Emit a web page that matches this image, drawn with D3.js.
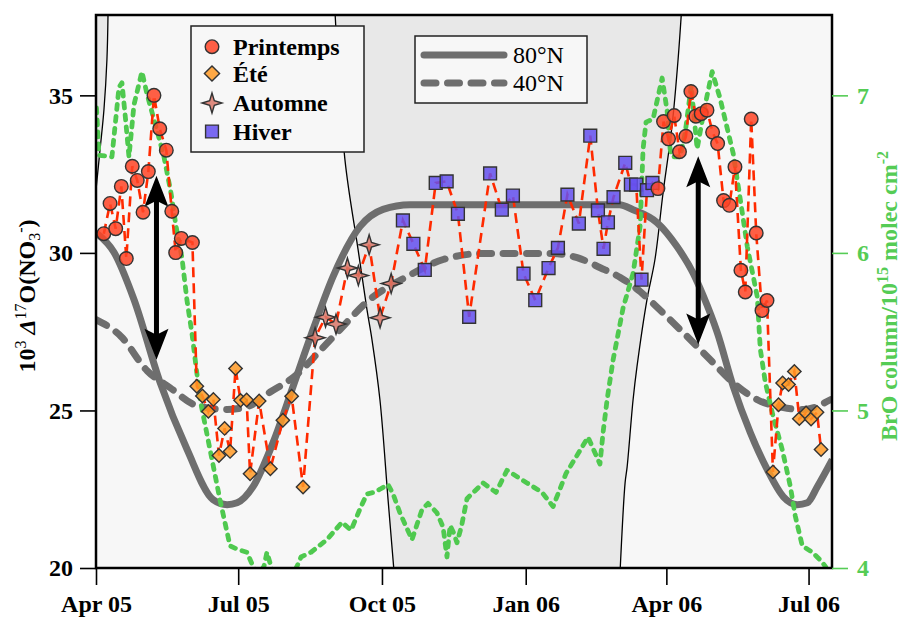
<!DOCTYPE html>
<html>
<head>
<meta charset="utf-8">
<script src="https://cdn.jsdelivr.net/npm/d3@7"></script>
<style>
  body { margin: 0; background: #fff; }
  text { font-family: "Liberation Serif", "Times New Roman", serif; }
</style>
</head>
<body>
<svg id="chart" width="902" height="617"></svg>
<script>
// days are counted from 1 April 2005
const START = new Date(Date.UTC(2005, 3, 1))
const END = new Date(Date.UTC(2006, 6, 16))

/* DATA */
const printempsDay = [5, 9, 12.6, 16.2, 19.4, 23.2, 26.4, 30.1, 33.5, 37.1, 40.8, 45, 48.5, 51, 54.6, 61.7,
    359.6, 363.2, 366.4, 370, 373.4, 377.5, 380.7, 383.9, 387.3, 391, 394.6, 397.8, 401.6, 405.3, 408.9, 412.7, 415.5, 419.3, 422.5, 426.2, 429.4]
const printempsVal = [30.61, 31.57, 30.77, 32.11, 29.82, 32.75, 32.3, 31.29, 32.58, 35, 33.94, 33.26, 31.32, 30.01, 30.46, 30.33,
    32.04, 34.17, 33.62, 34.36, 33.21, 33.7, 35.12, 34.34, 34.42, 34.53, 33.83, 33.47, 31.66, 31.51, 32.73, 29.45, 28.76, 34.25, 30.63, 28.17, 28.49]

const eteDay = [64.5, 68.1, 71.9, 75.1, 78.7, 82.3, 85.8, 89.3, 92.5, 96.4, 98.6, 104.4, 111.6, 119.6, 125.2, 132.5,
    433.2, 436.8, 439.4, 443.2, 446.9, 450.1, 454.4, 457.6, 461.4, 464]
const eteVal = [25.77, 25.46, 24.97, 25.35, 23.57, 24.43, 23.7, 26.33, 25.32, 25.33, 22.99, 25.3, 23.15, 24.69, 25.45, 22.57,
    23.05, 25.18, 25.87, 25.82, 26.24, 24.74, 24.92, 24.73, 24.94, 23.76]

const automneDay = [140.2, 146.9, 153.6, 160.9, 167.9, 174.8, 181.8, 188.9]
const automneVal = [27.31, 27.96, 27.74, 29.52, 29.28, 30.26, 27.94, 29.03]

const hiverDay = [196.4, 203.1, 210.4, 217.4, 224.4, 231.6, 238.8, 252.2, 259.7, 266.8, 273.6, 281.1, 289.6, 295.6,
    301.7, 309, 316.3, 321.2, 324.8, 327.6, 331.2, 338.7, 342.3, 345.7, 349.1, 352.6, 356.1]
const hiverVal = [31.03, 30.29, 29.46, 32.22, 32.27, 31.24, 27.97, 32.52, 31.37, 31.82, 29.34, 28.5, 29.52, 30.16,
    31.85, 30.93, 33.72, 31.35, 30.13, 30.97, 31.77, 32.86, 32.17, 32.17, 29.15, 31.99, 32.22]

// BrO column (right axis), [day, value]
const brO = [[0.3, 6.92], [1.9, 6.62], [10.2, 6.61], [14.7, 7.05], [16.6, 7.08], [18.9, 6.85], [21.1, 6.61], [24.3, 6.94],
    [29.4, 7.15], [32.6, 7.01], [38.4, 6.8], [43.5, 6.61], [48, 6.38], [51.2, 6.17], [55, 5.97], [58.2, 5.7], [61.4, 5.49],
    [66.6, 5.07], [73, 4.75], [79.4, 4.43], [85.8, 4.14], [90.2, 4.12], [96.6, 4.1], [100.5, 4.01], [103.7, 3.96],
    [107.5, 4.01], [109.4, 4.1], [112, 4.01], [115.2, 3.93], [124.2, 3.93], [128.6, 4.01], [131.2, 4.07], [137.6, 4.1],
    [147.8, 4.18], [157.4, 4.29], [163.2, 4.24], [169.6, 4.39], [173.4, 4.47], [177.9, 4.48], [181.7, 4.5], [186.9, 4.53],
    [190.1, 4.47], [194.5, 4.35], [202.2, 4.18], [208.6, 4.37], [212.5, 4.41], [218.2, 4.35], [222.1, 4.26], [224.6, 4.07],
    [226.6, 4.27], [229, 4.22], [231, 4.16], [234, 4.27], [237.4, 4.44], [247.7, 4.54], [256, 4.48], [263, 4.62], [275.8, 4.54],
    [285.4, 4.48], [292.5, 4.39], [300.8, 4.6], [314.9, 4.83], [322.5, 4.66], [324.5, 4.86], [327.1, 5.07], [330.9, 5.32],
    [337.3, 5.65], [343.7, 5.87], [348.2, 6.17], [350.1, 6.66], [352, 6.83], [356.5, 6.85], [362.3, 7.11], [365.5, 6.9],
    [367.4, 6.66], [368.7, 6.61], [373.8, 6.61], [377, 6.76], [380.9, 7.06], [384.7, 6.66], [389.2, 6.91], [394.3, 7.15],
    [399.4, 6.98], [407.8, 6.63], [412.3, 6.34], [416.8, 6.04], [423.2, 5.72], [425.1, 5.39], [428.3, 5.18], [433.4, 4.96],
    [439.2, 4.75], [444.3, 4.52], [447.5, 4.33], [452, 4.14], [458.4, 4.1], [463.5, 4.05], [466.8, 4.01], [470.5, 3.93]]

// model curves, [day, value]
const model80 = [[0, 30.64], [11.5, 30.02], [24.3, 28.52], [41, 25.89], [58.3, 23.76], [74.9, 22.17], [83.9, 22.01],
    [90.3, 22.07], [100.5, 22.58], [113.3, 23.98], [126.1, 25.76], [138.9, 27.57], [151.7, 29.25], [169, 30.84],
    [183.7, 31.38], [201, 31.53], [335, 31.53], [343.7, 31.37], [359, 30.96], [371.8, 30.2], [382, 29.37], [388.6, 28.64],
    [397.6, 27.47], [407.8, 25.76], [418.7, 24.3], [429.6, 23.12], [439.9, 22.26], [448.8, 22.01], [455.2, 22.07],
    [461.6, 22.58], [471.2, 23.44]]
const model40 = [[0, 27.88], [16, 27.35], [32.7, 26.26], [47.4, 25.72], [64.7, 25.15], [83.9, 25.03], [96.7, 25.12],
    [112, 25.6], [126.8, 26.07], [144, 26.93], [156.2, 27.57], [173.5, 28.45], [199.1, 29.25], [222.2, 29.79],
    [247.8, 29.98], [292.6, 29.98], [307.9, 29.85], [322.7, 29.53], [335.5, 29.22], [348.3, 28.77], [357.9, 28.33],
    [375.8, 27.47], [393.1, 26.61], [407.8, 25.88], [423.2, 25.34], [439.9, 25.09], [452.7, 25.03], [470, 25.34]]

// polar night boundaries
const nightCorner = [[7.7, 37.6], [7, 36.14], [5.1, 34.55], [2.6, 33.28], [0, 32.01]]
const nightStart = [[153, 37.6], [159.3, 32.96], [167.7, 30.11], [173.4, 28.2], [176.6, 27.25], [181.7, 25.34],
    [186.9, 22.17], [190.7, 19.9]]
const nightEnd = [[374.6, 37.6], [372.5, 36.14], [368.6, 34.01], [362.9, 31.91], [357.7, 29.79], [352.6, 28.52],
    [346.2, 26.39], [343.7, 25.34], [339.9, 23.21], [338.6, 22.71], [335.4, 19.9]]

// arrows
const arrowDay = [38.7, 385.4]
const arrowTop = [32.45, 33.07]
const arrowBottom = [26.61, 27.09]

const xTickDates = ["2005-04-01", "2005-07-01", "2005-10-01", "2006-01-01", "2006-04-01", "2006-07-01"]
const xTickLabels = ["Apr 05", "Jul 05", "Oct 05", "Jan 06", "Apr 06", "Jul 06"]
const yTicks = [20, 25, 30, 35]
const brOTicks = [4, 5, 6, 7]

const seasons = ["Printemps", "Été", "Automne", "Hiver"]
const seasonColor = ["#ff4426", "#ff9a26", "#d9786a", "#6450f0"]
const models = ["80°N", "40°N"]

/* UTILS */
function dayToDate(d) {
    return new Date(START.getTime() + d * 864e5)
}

function starPath(r) {
    const pts = d3.range(8).map(i => [i * Math.PI / 4, i % 2 ? r * 0.33 : r])
    return d3.lineRadial().curve(d3.curveLinearClosed)(pts)
}

function markerPath(season, big) {
    if (season === 0) return d3.symbol(d3.symbolCircle, 145)()
    if (season === 1) return d3.symbol(d3.symbolSquare, big ? 115 : 90)()
    if (season === 2) return starPath(10)
    return d3.symbol(d3.symbolSquare, 165)()
}

// set the dimensions and margins of the graph
const width = 902, height = 617
const margin = { top: 15, right: 70, bottom: 49, left: 96 }

const svg = d3.select("#chart")

const x = d3.scaleUtc().domain([START, END]).range([margin.left, width - margin.right])
const y = d3.scaleLinear().domain([20, 37.55]).range([height - margin.bottom, margin.top])
const yBrO = d3.scaleLinear().domain([4, 7.51]).range([height - margin.bottom, margin.top])

const plotW = width - margin.left - margin.right
const plotH = height - margin.top - margin.bottom

svg.append("clipPath").attr("id", "plotClip")
    .append("rect")
    .attr("x", margin.left).attr("y", margin.top)
    .attr("width", plotW).attr("height", plotH)

const plot = svg.append("g").attr("clip-path", "url(#plotClip)")

// background
plot.append("rect")
    .attr("x", margin.left).attr("y", margin.top)
    .attr("width", plotW).attr("height", plotH)
    .attr("fill", "#f7f7f7")

const bound = d3.line()
    .x(d => x(dayToDate(d[0])))
    .y(d => y(d[1]))
    .curve(d3.curveCatmullRom)

// dark zones, built from the same boundary curves
plot.append("path")
    .attr("d", bound(nightCorner) + "L" + x(START) + "," + y(37.6) + "Z")
    .attr("fill", "#e8e8e8")
plot.append("path")
    .attr("d", bound(nightStart) + bound(nightEnd.slice().reverse()).replace(/^M/, "L") + "Z")
    .attr("fill", "#e8e8e8")

;[nightCorner, nightStart, nightEnd].forEach(b => {
    plot.append("path")
        .attr("d", bound(b))
        .attr("fill", "none")
        .attr("stroke", "#000")
        .attr("stroke-width", 1.3)
})

// model curves
const modelLine = d3.line()
    .x(d => x(dayToDate(d[0])))
    .y(d => y(d[1]))
    .curve(d3.curveMonotoneX)

plot.append("path")
    .attr("d", modelLine(model80))
    .attr("fill", "none")
    .attr("stroke", "#6e6e6e")
    .attr("stroke-width", 7)
plot.append("path")
    .attr("d", modelLine(model40))
    .attr("fill", "none")
    .attr("stroke", "#6e6e6e")
    .attr("stroke-width", 7)
    .attr("stroke-linecap", "round")
    .attr("stroke-dasharray", "12,11.5")

// BrO line
const brOLine = d3.line()
    .x(d => x(dayToDate(d[0])))
    .y(d => yBrO(d[1]))

plot.append("path")
    .attr("d", brOLine(brO))
    .attr("fill", "none")
    .attr("stroke", "#4fc94f")
    .attr("stroke-width", 4.8)
    .attr("stroke-linecap", "round")
    .attr("stroke-linejoin", "round")
    .attr("stroke-dasharray", "5,7")

// all observations, chronological
let obs = []
;[[printempsDay, printempsVal], [eteDay, eteVal], [automneDay, automneVal], [hiverDay, hiverVal]].forEach(([days, vals], s) => {
    days.forEach((d, i) => obs.push({ day: d, value: vals[i], season: s }))
})
obs.sort((a, b) => a.day - b.day)

plot.append("path")
    .attr("d", d3.line().x(d => x(dayToDate(d.day))).y(d => y(d.value))(obs))
    .attr("fill", "none")
    .attr("stroke", "#ff2a00")
    .attr("stroke-width", 2.6)
    .attr("stroke-dasharray", "10,6")

// arrows
function drawArrow(g, xp, yTop, yBot) {
    g.append("line")
        .attr("x1", xp).attr("x2", xp)
        .attr("y1", yTop + 20).attr("y2", yBot - 20)
        .attr("stroke", "#000").attr("stroke-width", 5)
    g.append("path")
        .attr("d", `M${xp},${yTop}L${xp - 12},${yTop + 31}L${xp},${yTop + 25}L${xp + 12},${yTop + 31}Z`)
        .attr("fill", "#000")
    g.append("path")
        .attr("d", `M${xp},${yBot}L${xp - 12},${yBot - 31}L${xp},${yBot - 25}L${xp + 12},${yBot - 31}Z`)
        .attr("fill", "#000")
}
arrowDay.forEach((d, i) => {
    drawArrow(plot, x(dayToDate(d)), y(arrowTop[i]), y(arrowBottom[i]))
})

// markers
plot.append("g")
    .selectAll("path")
    .data(obs)
    .enter().append("path")
    .attr("d", d => markerPath(d.season))
    .attr("transform", d => "translate(" + x(dayToDate(d.day)) + "," + y(d.value) + ")" + (d.season === 1 ? " rotate(45)" : ""))
    .attr("fill", d => seasonColor[d.season])
    .attr("fill-opacity", 0.85)
    .attr("stroke", "#333")
    .attr("stroke-width", 1.4)

/* LEGENDS */
const leg1 = svg.append("g")
leg1.append("rect")
    .attr("x", 191).attr("y", 26).attr("width", 173).attr("height", 126)
    .attr("fill", "#f7f7f7").attr("stroke", "#222").attr("stroke-width", 1.5)
const legY = [46.7, 73.5, 103, 131.5]
seasons.forEach((s, i) => {
    leg1.append("path")
        .attr("d", markerPath(i, true))
        .attr("transform", "translate(212," + legY[i] + ")" + (i === 1 ? " rotate(45)" : ""))
        .attr("fill", seasonColor[i])
        .attr("fill-opacity", 0.85)
        .attr("stroke", "#333")
        .attr("stroke-width", 1.4)
    leg1.append("text")
        .attr("x", 233).attr("y", legY[i]).attr("dy", "0.35em")
        .style("font-size", "24px").style("font-weight", "bold")
        .text(s)
})

const leg2 = svg.append("g")
leg2.append("rect")
    .attr("x", 415).attr("y", 36).attr("width", 172).attr("height", 67)
    .attr("fill", "#f7f7f7").attr("stroke", "#222").attr("stroke-width", 1.5)
const leg2Y = [55, 83]
models.forEach((m, i) => {
    leg2.append("line")
        .attr("x1", 424).attr("x2", 504)
        .attr("y1", leg2Y[i]).attr("y2", leg2Y[i])
        .attr("stroke", "#6e6e6e").attr("stroke-width", 7)
        .attr("stroke-linecap", "round")
        .attr("stroke-dasharray", i === 1 ? "12,11.5" : null)
    leg2.append("text")
        .attr("x", 513).attr("y", leg2Y[i]).attr("dy", "0.35em")
        .style("font-size", "24px")
        .text(m)
})

/* FRAME + AXES */
svg.append("rect")
    .attr("x", margin.left).attr("y", margin.top)
    .attr("width", plotW).attr("height", plotH)
    .attr("fill", "none").attr("stroke", "#000").attr("stroke-width", 2.5)

const parseDay = d3.utcParse("%Y-%m-%d")
const xAxis = svg.append("g")
    .attr("transform", "translate(0," + (height - margin.bottom) + ")")
    .call(d3.axisBottom(x)
        .tickValues(xTickDates.map(parseDay))
        .tickFormat((d, i) => xTickLabels[i])
        .tickSize(17).tickPadding(10))

const yAxis = svg.append("g")
    .attr("transform", "translate(" + margin.left + ",0)")
    .call(d3.axisLeft(y).tickValues(yTicks).tickFormat(d3.format("d")).tickSize(16).tickPadding(7))

const rAxis = svg.append("g")
    .attr("transform", "translate(" + (width - margin.right) + ",0)")
    .call(d3.axisRight(yBrO).tickValues(brOTicks).tickFormat(d3.format("d")).tickSize(16).tickPadding(9))

;[xAxis, yAxis, rAxis].forEach(a => {
    a.attr("font-family", "Liberation Serif").attr("font-size", 24).attr("font-weight", "bold")
    a.select(".domain").remove()
    a.selectAll("line").attr("stroke-width", 1.6)
})
rAxis.selectAll("line").attr("stroke", "#55cc55")
rAxis.selectAll("text").attr("fill", "#55cc55")

// axis titles
const yLabel = svg.append("text")
    .attr("transform", "translate(35,296) rotate(-90)")
    .attr("text-anchor", "middle")
    .style("font-size", "24px").style("font-weight", "bold")
yLabel.append("tspan").text("10")
yLabel.append("tspan").attr("dy", -9).style("font-size", "16px").style("font-weight", "normal").text("3")
yLabel.append("tspan").attr("dy", 9).text(" ")
yLabel.append("tspan").style("font-style", "italic").text("Δ")
yLabel.append("tspan").attr("dy", -9).style("font-size", "16px").style("font-weight", "normal").text("17")
yLabel.append("tspan").attr("dy", 9).text("O(NO")
yLabel.append("tspan").attr("dy", 5).style("font-size", "16px").style("font-weight", "normal").text("3")
yLabel.append("tspan").attr("dy", -14).style("font-size", "16px").style("font-weight", "normal").text("-")
yLabel.append("tspan").attr("dy", 9).text(")")

const rLabel = svg.append("text")
    .attr("transform", "translate(897,296) rotate(-90)")
    .attr("text-anchor", "middle")
    .attr("fill", "#55cc55")
    .style("font-size", "24px").style("font-weight", "bold")
rLabel.append("tspan").text("BrO column/10")
rLabel.append("tspan").attr("dy", -9).style("font-size", "16px").text("15")
rLabel.append("tspan").attr("dy", 9).text(" molec cm")
rLabel.append("tspan").attr("dy", -9).style("font-size", "16px").text("-2")
</script>
</body>
</html>
